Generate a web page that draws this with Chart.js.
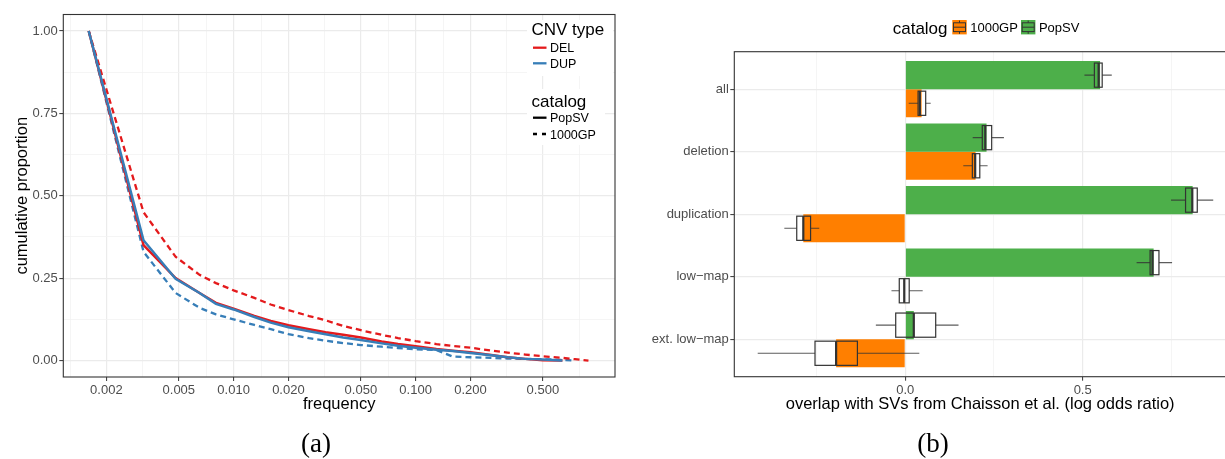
<!DOCTYPE html>
<html lang="en">
<head>
<meta charset="UTF-8">
<title>CNV frequency and overlap with Chaisson et al.</title>
<script src="https://cdn.jsdelivr.net/npm/chart.js@4.4.3/dist/chart.umd.min.js"></script>
<style>
  html, body { margin: 0; padding: 0; background: #fff; overflow: hidden; }
  body { width: 1225px; height: 459px; position: relative; }
  .panel { position: absolute; top: 0; height: 459px; }
  #panelA { left: 0; width: 620px; }
  #panelB { left: 620px; width: 610px; }
</style>
</head>
<body>
<div class="panel" id="panelA"><canvas id="freqChart"></canvas></div>
<div class="panel" id="panelB"><canvas id="overlapChart"></canvas></div>

<script>
// ---- (a) cumulative proportion of CNVs by frequency ----
const freq = [0.0016, 0.0032, 0.0048, 0.0065, 0.008, 0.01, 0.013, 0.016, 0.02, 0.026, 0.032, 0.04, 0.05,
              0.065, 0.08, 0.1, 0.13, 0.16, 0.2, 0.26, 0.32, 0.4, 0.5, 0.64, 0.75, 0.89];
const delPopSV  = [1.00, 0.350, 0.250, 0.205, 0.175, 0.157, 0.135, 0.120, 0.107, 0.095, 0.086, 0.078, 0.070,
                   0.058, 0.050, 0.043, 0.035, 0.030, 0.025, 0.017, 0.010, 0.005, 0.001, 0.000, null, null];
const dupPopSV  = [1.00, 0.365, 0.248, 0.205, 0.172, 0.155, 0.132, 0.115, 0.101, 0.089, 0.080, 0.070, 0.062,
                   0.052, 0.045, 0.039, 0.033, 0.029, 0.023, 0.016, 0.010, 0.005, 0.003, 0.000, null, null];
const del1000GP = [1.00, 0.450, 0.315, 0.260, 0.235, 0.213, 0.190, 0.170, 0.153, 0.135, 0.122, 0.105, 0.092,
                   0.078, 0.068, 0.059, 0.050, 0.044, 0.039, 0.030, 0.024, 0.018, 0.013, 0.008, 0.004, 0.000];
const dup1000GP = [1.00, 0.330, 0.205, 0.160, 0.140, 0.125, 0.108, 0.095, 0.080, 0.068, 0.060, 0.053, 0.047,
                   0.042, 0.038, 0.034, 0.032, 0.012, 0.010, 0.008, 0.006, 0.005, 0.004, 0.002, 0.000, null];
const freqTicks = [0.002, 0.005, 0.01, 0.02, 0.05, 0.1, 0.2, 0.5];
const freqTickLabels = ['0.002', '0.005', '0.010', '0.020', '0.050', '0.100', '0.200', '0.500'];
const propTicks = [0, 0.25, 0.5, 0.75, 1];

// ---- (b) log odds ratio of overlap, with bootstrap boxes ----
const categories = ['all', 'deletion', 'duplication', 'low\u2212map', 'ext. low\u2212map'];
const popsvOdds = [0.549, 0.229, 0.810, 0.700, 0.024];
const kgOdds    = [0.046, 0.198, -0.2875, -0.002, -0.195];
// [lower whisker, q1, median, q3, upper whisker]
const popsvBox = [[0.505, 0.533, 0.545, 0.555, 0.582],
                  [0.190, 0.217, 0.2255, 0.2435, 0.278],
                  [0.749, 0.790, 0.809, 0.823, 0.868],
                  [0.652, 0.690, 0.697, 0.715, 0.752],
                  [-0.083, -0.027, 0.024, 0.0857, 0.150]];
const kgBox    = [[0.0096, 0.036, 0.041, 0.0575, 0.0716],
                  [0.1635, 0.189, 0.197, 0.210, 0.232],
                  [-0.341, -0.306, -0.2875, -0.267, -0.2425],
                  [-0.039, -0.017, -0.003, 0.011, 0.049],
                  [-0.416, -0.2545, -0.195, -0.135, 0.0395]];
const oddsTicks = [0, 0.5];

const RED = '#E41A1C', BLUE = '#377EB8', GREEN = '#4DAF4A', ORANGE = '#FF7F00';
const SANS = "'Liberation Sans', Arial, sans-serif";
Chart.defaults.font.family = SANS;

// minor breaks half way between majors (in transformed space), like ggplot
function minorBreaks(majors, log) {
  const t = log ? majors.map(Math.log10) : majors.slice();
  const out = [];
  out.push(t[0] - (t[1] - t[0]) / 2);
  for (let i = 0; i < t.length - 1; i++) out.push((t[i] + t[i + 1]) / 2);
  out.push(t[t.length - 1] + (t[t.length - 1] - t[t.length - 2]) / 2);
  return log ? out.map(v => Math.pow(10, v)) : out;
}

function withMinor(scale, majors, log) {
  const lo = scale.min, hi = scale.max;
  const ticks = majors.map(v => ({ value: v, minor: false }))
    .concat(minorBreaks(majors, log).map(v => ({ value: v, minor: true })))
    .filter(t => t.value >= lo && t.value <= hi)
    .sort((a, b) => a.value - b.value);
  scale.ticks = ticks;
}

const gridOpts = {
  offset: false,
  color: ctx => (ctx.tick && ctx.tick.minor) ? '#F2F2F2' : '#EBEBEB',
  lineWidth: ctx => (ctx.tick && ctx.tick.minor) ? 0.8 : 1.2,
  tickColor: ctx => (ctx.tick && ctx.tick.minor) ? 'rgba(0,0,0,0)' : '#333333',
  tickLength: 4,
  tickWidth: 1
};
const tickFont = { size: 13 };

function drawText(ctx, text, x, y, opts) {
  ctx.save();
  ctx.font = opts.font;
  ctx.fillStyle = opts.color || '#000';
  ctx.textAlign = opts.align || 'left';
  ctx.textBaseline = opts.baseline || 'alphabetic';
  if (opts.rotate) {
    ctx.translate(x, y);
    ctx.rotate(opts.rotate);
    ctx.fillText(text, 0, 0);
  } else {
    ctx.fillText(text, x, y);
  }
  ctx.restore();
}

function strokeBorder(chart) {
  const a = chart.chartArea, ctx = chart.ctx;
  ctx.save();
  ctx.strokeStyle = '#333333';
  ctx.lineWidth = 1.1;
  ctx.strokeRect(a.left, a.top, a.right - a.left, a.bottom - a.top);
  ctx.restore();
}

// ---------------- panel (a) ----------------
const pts = arr => freq.map((f, i) => ({ x: f, y: arr[i] })).filter(p => p.y !== null);

const panelADecor = {
  id: 'panelADecor',
  afterDraw(chart) {
    const ctx = chart.ctx, a = chart.chartArea;
    strokeBorder(chart);

    // axis titles
    drawText(ctx, 'frequency', (a.left + a.right) / 2, 404, { font: '16.5px ' + SANS, align: 'center', baseline: 'middle' });
    drawText(ctx, 'cumulative proportion', 22, (a.top + a.bottom) / 2,
      { font: '16.5px ' + SANS, align: 'center', baseline: 'middle', rotate: -Math.PI / 2 });

    // legends
    ctx.save();
    ctx.fillStyle = '#fff';
    ctx.fillRect(527, 20, 86, 56);
    ctx.fillRect(527, 89, 78, 56);
    ctx.restore();

    drawText(ctx, 'CNV type', 531.5, 35, { font: '17px ' + SANS });
    drawText(ctx, 'catalog', 531.5, 106.5, { font: '17px ' + SANS });
    const keys = [
      { y: 47.7, color: RED, dash: [], label: 'DEL' },
      { y: 63.3, color: BLUE, dash: [], label: 'DUP' },
      { y: 117.7, color: '#000', dash: [], label: 'PopSV' },
      { y: 134, color: '#000', dash: [4, 5], label: '1000GP' }
    ];
    keys.forEach(k => {
      ctx.save();
      ctx.strokeStyle = k.color;
      ctx.lineWidth = 2.3;
      ctx.setLineDash(k.dash);
      ctx.beginPath();
      ctx.moveTo(533, k.y);
      ctx.lineTo(546.5, k.y);
      ctx.stroke();
      ctx.restore();
      drawText(ctx, k.label, 550, k.y + 4.5, { font: '12.5px ' + SANS });
    });

    drawText(ctx, '(a)', 316, 452, { font: '27px "Liberation Serif", serif', align: 'center' });
  }
};

new Chart(document.getElementById('freqChart'), {
  type: 'line',
  data: {
    datasets: [
      { label: 'DUP PopSV', data: pts(dupPopSV), borderColor: BLUE, borderWidth: 2.5 },
      { label: 'DEL PopSV', data: pts(delPopSV), borderColor: RED, borderWidth: 2.5 },
      { label: 'DEL 1000GP', data: pts(del1000GP), borderColor: RED, borderWidth: 2.3, borderDash: [6, 4] },
      { label: 'DUP 1000GP', data: pts(dup1000GP), borderColor: BLUE, borderWidth: 2.3, borderDash: [6, 4] }
    ]
  },
  options: {
    responsive: true,
    maintainAspectRatio: false,
    animation: false,
    events: [],
    elements: { point: { radius: 0 }, line: { tension: 0, fill: false } },
    layout: { padding: { left: 0, top: 14.5, right: 5, bottom: 58 } },
    plugins: { legend: { display: false }, tooltip: { enabled: false } },
    scales: {
      x: {
        type: 'logarithmic',
        min: 0.00116,
        max: 1.245,
        afterBuildTicks: s => withMinor(s, freqTicks, true),
        afterFit: s => { s.height = 24; },
        ticks: {
          autoSkip: false, maxRotation: 0, padding: 2, font: tickFont, color: '#4D4D4D',
          callback: v => { const i = freqTicks.findIndex(t => Math.abs(t - v) < 1e-9); return i >= 0 ? freqTickLabels[i] : ''; }
        },
        grid: gridOpts,
        border: { display: false }
      },
      y: {
        type: 'linear',
        min: -0.05,
        max: 1.05,
        afterBuildTicks: s => withMinor(s, propTicks, false),
        afterFit: s => { s.width = 63.3; },
        ticks: {
          autoSkip: false, padding: 1.5, font: tickFont, color: '#4D4D4D',
          callback: v => propTicks.some(t => Math.abs(t - v) < 1e-9) ? v.toFixed(2) : ''
        },
        grid: gridOpts,
        border: { display: false }
      }
    }
  },
  plugins: [panelADecor]
});

// ---------------- panel (b) ----------------
const boxPlugin = {
  id: 'boxes',
  afterDatasetsDraw(chart) {
    const ctx = chart.ctx, xs = chart.scales.x;
    [popsvBox, kgBox].forEach((stats, d) => {
      chart.getDatasetMeta(d).data.forEach((bar, i) => {
        const [lo, q1, med, q3, hi] = stats[i].map(v => xs.getPixelForValue(v));
        const cy = bar.y, half = bar.height * 0.43;
        ctx.save();
        ctx.strokeStyle = 'rgba(51,51,51,0.8)';
        ctx.lineWidth = 1.2;
        ctx.beginPath();
        ctx.moveTo(lo, cy); ctx.lineTo(q1, cy);
        ctx.moveTo(q3, cy); ctx.lineTo(hi, cy);
        ctx.stroke();
        ctx.strokeStyle = '#333333';
        ctx.lineWidth = 1.2;
        ctx.strokeRect(q1, cy - half, q3 - q1, 2 * half);
        ctx.lineWidth = 2.2;
        ctx.beginPath();
        ctx.moveTo(med, cy - half); ctx.lineTo(med, cy + half);
        ctx.stroke();
        ctx.restore();
      });
    });
  }
};

const panelBDecor = {
  id: 'panelBDecor',
  afterDraw(chart) {
    const ctx = chart.ctx, a = chart.chartArea;
    strokeBorder(chart);
    drawText(ctx, 'overlap with SVs from Chaisson et al. (log odds ratio)', (a.left + a.right) / 2, 404,
      { font: '16.5px ' + SANS, align: 'center', baseline: 'middle' });

    // legend on top
    drawText(ctx, 'catalog', 272.7, 34.3, { font: '17px ' + SANS });
    const keys = [{ x: 332.3, color: ORANGE, label: '1000GP' }, { x: 401, color: GREEN, label: 'PopSV' }];
    keys.forEach(k => {
      const y = 20, s = 14.4;
      ctx.save();
      ctx.fillStyle = k.color;
      ctx.fillRect(k.x, y, s, s);
      ctx.strokeStyle = '#333333';
      ctx.lineWidth = 1;
      ctx.strokeRect(k.x + 1.2, y + 2.8, s - 2.4, s - 5.6);
      ctx.beginPath();
      ctx.moveTo(k.x + 1.2, y + s / 2); ctx.lineTo(k.x + s - 1.2, y + s / 2);
      ctx.moveTo(k.x + s / 2, y + 0.6); ctx.lineTo(k.x + s / 2, y + 2.8);
      ctx.moveTo(k.x + s / 2, y + s - 2.8); ctx.lineTo(k.x + s / 2, y + s - 0.6);
      ctx.stroke();
      ctx.restore();
      drawText(ctx, k.label, k.x + s + 3.5, 32, { font: '13px ' + SANS });
    });

    drawText(ctx, '(b)', 313, 452, { font: '27px "Liberation Serif", serif', align: 'center' });
  }
};

new Chart(document.getElementById('overlapChart'), {
  type: 'bar',
  data: {
    datasets: [
      { label: 'PopSV', data: popsvOdds.map((v, i) => ({ x: v, y: i })), backgroundColor: GREEN },
      { label: '1000GP', data: kgOdds.map((v, i) => ({ x: v, y: i })), backgroundColor: ORANGE }
    ]
  },
  options: {
    indexAxis: 'y',
    responsive: true,
    maintainAspectRatio: false,
    animation: false,
    events: [],
    datasets: { bar: { categoryPercentage: 0.9, barPercentage: 1.0, borderWidth: 0 } },
    layout: { padding: { left: 0, top: 51.7, right: 4, bottom: 58.3 } },
    plugins: { legend: { display: false }, tooltip: { enabled: false } },
    scales: {
      x: {
        type: 'linear',
        min: -0.482,
        max: 0.904,
        afterBuildTicks: s => withMinor(s, oddsTicks, false),
        afterFit: s => { s.height = 24; },
        ticks: {
          autoSkip: false, maxRotation: 0, padding: 2, font: tickFont, color: '#4D4D4D',
          callback: v => oddsTicks.some(t => Math.abs(t - v) < 1e-9) ? v.toFixed(1) : ''
        },
        grid: gridOpts,
        border: { display: false }
      },
      y: {
        type: 'linear',
        reverse: true,
        offset: false,
        min: -0.6,
        max: 4.6,
        afterBuildTicks: s => { s.ticks = categories.map((c, i) => ({ value: i, minor: false })); },
        afterFit: s => { s.width = 114.3; },
        ticks: {
          autoSkip: false, padding: 1.5, font: tickFont, color: '#4D4D4D',
          callback: v => categories[v]
        },
        grid: gridOpts,
        border: { display: false }
      }
    }
  },
  plugins: [boxPlugin, panelBDecor]
});
</script>
</body>
</html>
